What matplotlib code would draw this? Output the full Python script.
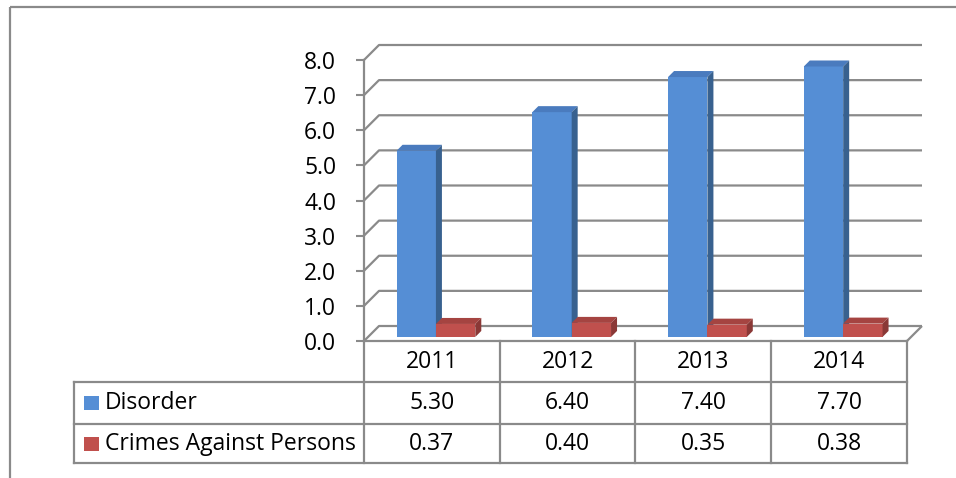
import matplotlib
matplotlib.use("Agg")
import matplotlib.pyplot as plt
from matplotlib.patches import Polygon, Rectangle
import numpy as np

plt.rcParams['font.family'] = ['Open Sans', 'DejaVu Sans']

years = ["2011", "2012", "2013", "2014"]
series_names = ["Disorder", "Crimes Against Persons"]
disorder = [5.30, 6.40, 7.40, 7.70]
crimes = [0.37, 0.40, 0.35, 0.38]
y_ticks = [0, 1, 2, 3, 4, 5, 6, 7, 8]

W, H = 956, 478
DPI = 100
fig = plt.figure(figsize=(W / DPI, H / DPI), dpi=DPI)

# overlay axes in pixel coordinates for frame and table
ov = fig.add_axes([0, 0, 1, 1])
ov.set_xlim(0, W)
ov.set_ylim(H, 0)
ov.axis('off')

X0, X1, YB, YT = 364, 907, 341, 60
ax = fig.add_axes([X0 / W, (H - YB) / H, (X1 - X0) / W, (YB - YT) / H])
ax.set_xlim(0, len(years))
ax.set_ylim(0, 8)
ax.patch.set_alpha(0)
for s in ['top', 'right', 'bottom']:
    ax.spines[s].set_visible(False)
GRID = '#8a8a8a'
ax.spines['left'].set_color(GRID)
ax.spines['left'].set_linewidth(1.6)
ax.set_xticks([])
ax.set_yticks(y_ticks)
ax.set_yticklabels([f"{v:.1f}" for v in y_ticks])
FS = 16.5
ax.tick_params(axis='y', length=6, width=1.5, color=GRID, pad=14, labelsize=FS)

DEPTH = 15.0  # px for full depth


def P(x, y, d):
    px, py = ax.transData.transform((x, y))
    return (px + d * DEPTH, py + d * DEPTH)


def poly(pts, color, z):
    p = Polygon(pts, closed=True, facecolor=color, edgecolor='none',
                transform=None, zorder=z, clip_on=False)
    fig.add_artist(p)


def line(pts, z=1):
    xs = [p[0] for p in pts]
    ys = [p[1] for p in pts]
    fig.add_artist(plt.Line2D(xs, ys, transform=None, color=GRID, lw=1.6,
                              zorder=z, solid_capstyle='butt'))

# back wall gridlines and left diagonals
for t in y_ticks:
    line([P(0, t, 0), P(0, t, 1), P(len(years), t, 1)])
# floor right diagonal
line([P(len(years), 0, 1), P(len(years), 0, 0)])

colors = {
    0: ('#558ED5', '#4A7BBE', '#38618F'),
    1: ('#C0504D', '#A54441', '#8A3836'),
}
bw = 0.29
d0, d1 = 0.27, 0.67
for i in range(len(years)):
    for k, vals in enumerate([disorder, crimes]):
        v = vals[i]
        xa = i + 0.5 - bw + k * bw
        xb = xa + bw
        front, top, side = colors[k]
        z = 3 + i * 2 + k
        poly([P(xa, 0, d0), P(xb, 0, d0), P(xb, v, d0), P(xa, v, d0)], front, z)
        poly([P(xa, v, d0), P(xb, v, d0), P(xb, v, d1), P(xa, v, d1)], top, z)
        poly([P(xb, 0, d0), P(xb, 0, d1), P(xb, v, d1), P(xb, v, d0)], side, z)

# outer frame (partial)
ov.plot([10, W], [7, 7], color=GRID, lw=1.6, solid_capstyle='butt')
ov.plot([10, 10], [7, H], color=GRID, lw=1.6, solid_capstyle='butt')

# data table
rows_y = [341, 382, 424, 463]
leg_x = 74
col_x = [X0 + i * (X1 - X0) / len(years) for i in range(len(years) + 1)]
TL = dict(color=GRID, lw=1.6, solid_capstyle='projecting')
ov.plot([X0, X1], [rows_y[0]] * 2, **TL)
for yy in rows_y[1:]:
    ov.plot([leg_x, X1], [yy, yy], **TL)
for xx in col_x:
    ov.plot([xx, xx], [rows_y[0], rows_y[-1]], **TL)
ov.plot([leg_x, leg_x], [rows_y[1], rows_y[-1]], **TL)

for i, yr in enumerate(years):
    cx = (col_x[i] + col_x[i + 1]) / 2
    ov.text(cx, (rows_y[0] + rows_y[1]) / 2, yr, ha='center', va='center', fontsize=FS)
    ov.text(cx, (rows_y[1] + rows_y[2]) / 2, f"{disorder[i]:.2f}", ha='center', va='center', fontsize=FS)
    ov.text(cx, (rows_y[2] + rows_y[3]) / 2, f"{crimes[i]:.2f}", ha='center', va='center', fontsize=FS)

for r, (name, c) in enumerate(zip(series_names, ['#558ED5', '#C0504D'])):
    cy = (rows_y[r + 1] + rows_y[r + 2]) / 2
    ov.add_patch(Rectangle((84, cy - 7), 15, 14, facecolor=c, edgecolor='none'))
    ov.text(105, cy, name, ha='left', va='center', fontsize=FS)

fig.savefig("out.png", dpi=DPI)
